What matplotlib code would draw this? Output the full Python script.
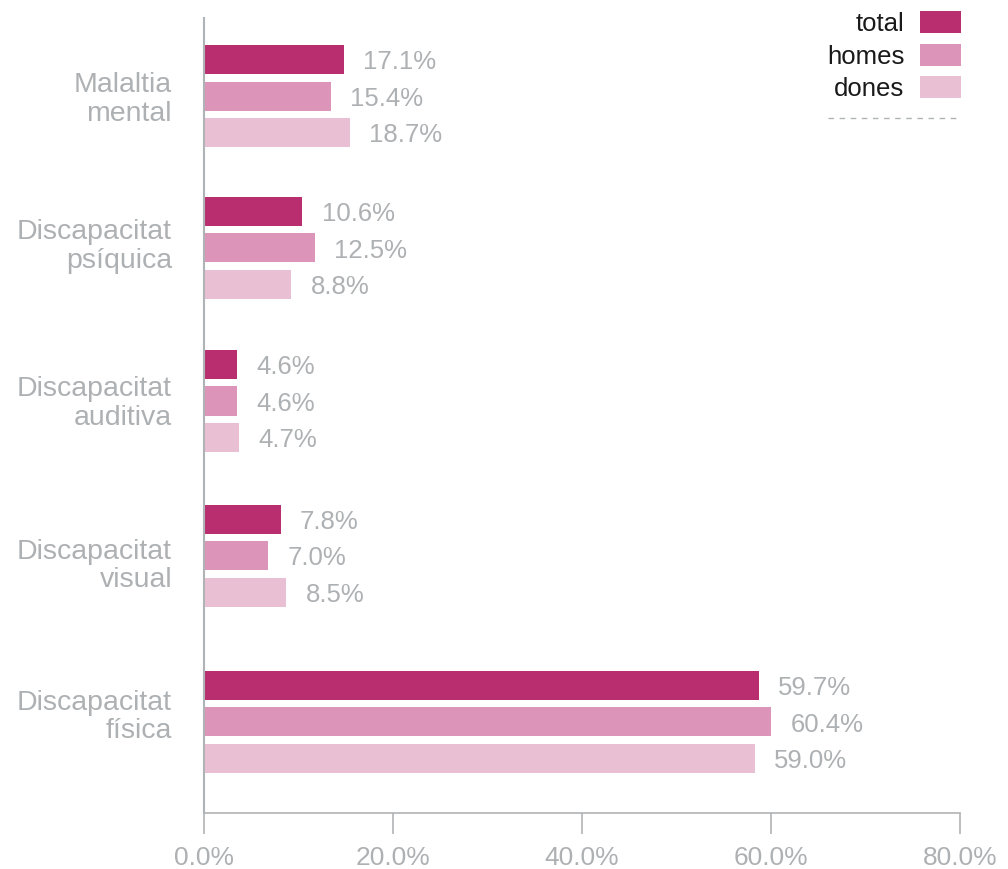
import matplotlib
matplotlib.use("Agg")
import matplotlib.pyplot as plt
from matplotlib.patches import Patch
from matplotlib.lines import Line2D
import numpy as np

# ---- data ----
categories = ["Malaltia\nmental", "Discapacitat\npsíquica", "Discapacitat\nauditiva",
              "Discapacitat\nvisual", "Discapacitat\nfísica"]
series_names = ["total", "homes", "dones"]
# bar lengths as drawn in the picture (%)
total_bars = [14.8, 10.4, 3.5, 8.1, 58.7]
homes_bars = [13.4, 11.7, 3.5, 6.8, 60.0]
dones_bars = [15.4, 9.2, 3.7, 8.7, 58.3]
# values printed next to the bars (%)
total_labels = [17.1, 10.6, 4.6, 7.8, 59.7]
homes_labels = [15.4, 12.5, 4.6, 7.0, 60.4]
dones_labels = [18.7, 8.8, 4.7, 8.5, 59.0]
x_ticks = [0, 20, 40, 60, 80]

colors = ["#B82E6F", "#DC95B8", "#E9C0D3"]
gray_text = "#AEB1B3"
gray_line = "#B0B3B5"

plt.rcParams["font.family"] = ["Liberation Sans", "DejaVu Sans"]

W, H = 1008, 869
fig = plt.figure(figsize=(W / 100, H / 100), dpi=100)
ax = fig.add_axes([204 / W, 56 / H, 756 / W, 795 / H])

# layout: group centres and category-label centres (slightly uneven, as in the reference)
y = np.array([0.0, 0.99, 1.99, 3.0, 4.085])
y_lab = np.array([-0.007, 0.954, 1.98, 3.04, 4.026])
step = 0.2386
height = 0.19
bars_all = [total_bars, homes_bars, dones_bars]
labels_all = [total_labels, homes_labels, dones_labels]
for k, (bars, labs) in enumerate(zip(bars_all, labels_all)):
    pos = y + (k - 1) * step
    ax.barh(pos, bars, height=height, color=colors[k], label=series_names[k], zorder=2)
    for p, b, l in zip(pos, bars, labs):
        ax.annotate(f"{l:.1f}%", xy=(b, p), xytext=(14, -2), textcoords="offset points",
                    ha="left", va="center", fontsize=18.5, color=gray_text)

ax.set_xlim(0, 80)
ax.set_ylim(4.68, -0.51)
ax.set_xticks(x_ticks)
ax.set_xticklabels([f"{v:.1f}%" for v in x_ticks])
ax.set_yticks(y_lab)
ax.set_yticklabels(categories, linespacing=1.13)

for s in ["top", "right"]:
    ax.spines[s].set_visible(False)
ax.spines["left"].set_color(gray_line)
ax.spines["left"].set_linewidth(1.5)
ax.spines["bottom"].set_color(gray_line)
ax.spines["bottom"].set_linewidth(1.2)

ax.tick_params(axis="x", length=15, width=1.2, color=gray_line, labelcolor=gray_text,
               labelsize=19, pad=9)
ax.tick_params(axis="y", length=0, pad=23, labelcolor=gray_text, labelsize=20.5)

# legend
handles = [Patch(facecolor=c, edgecolor="none") for c in colors]
leg = fig.legend(handles, series_names, loc="upper right",
                 bbox_to_anchor=(961 / W, 1 - 11 / H), frameon=False,
                 markerfirst=False, fontsize=18.5, handlelength=1.6, handleheight=0.95,
                 handletextpad=0.6, labelspacing=0.3, borderaxespad=0, borderpad=0)
for t in leg.get_texts():
    t.set_color("#1a1a1a")

fig.add_artist(Line2D([828 / W, 960 / W], [1 - 118 / H, 1 - 118 / H],
                      transform=fig.transFigure, color=gray_line, lw=1.0,
                      linestyle=(0, (4, 4))))

fig.savefig("out.png", dpi=100)
